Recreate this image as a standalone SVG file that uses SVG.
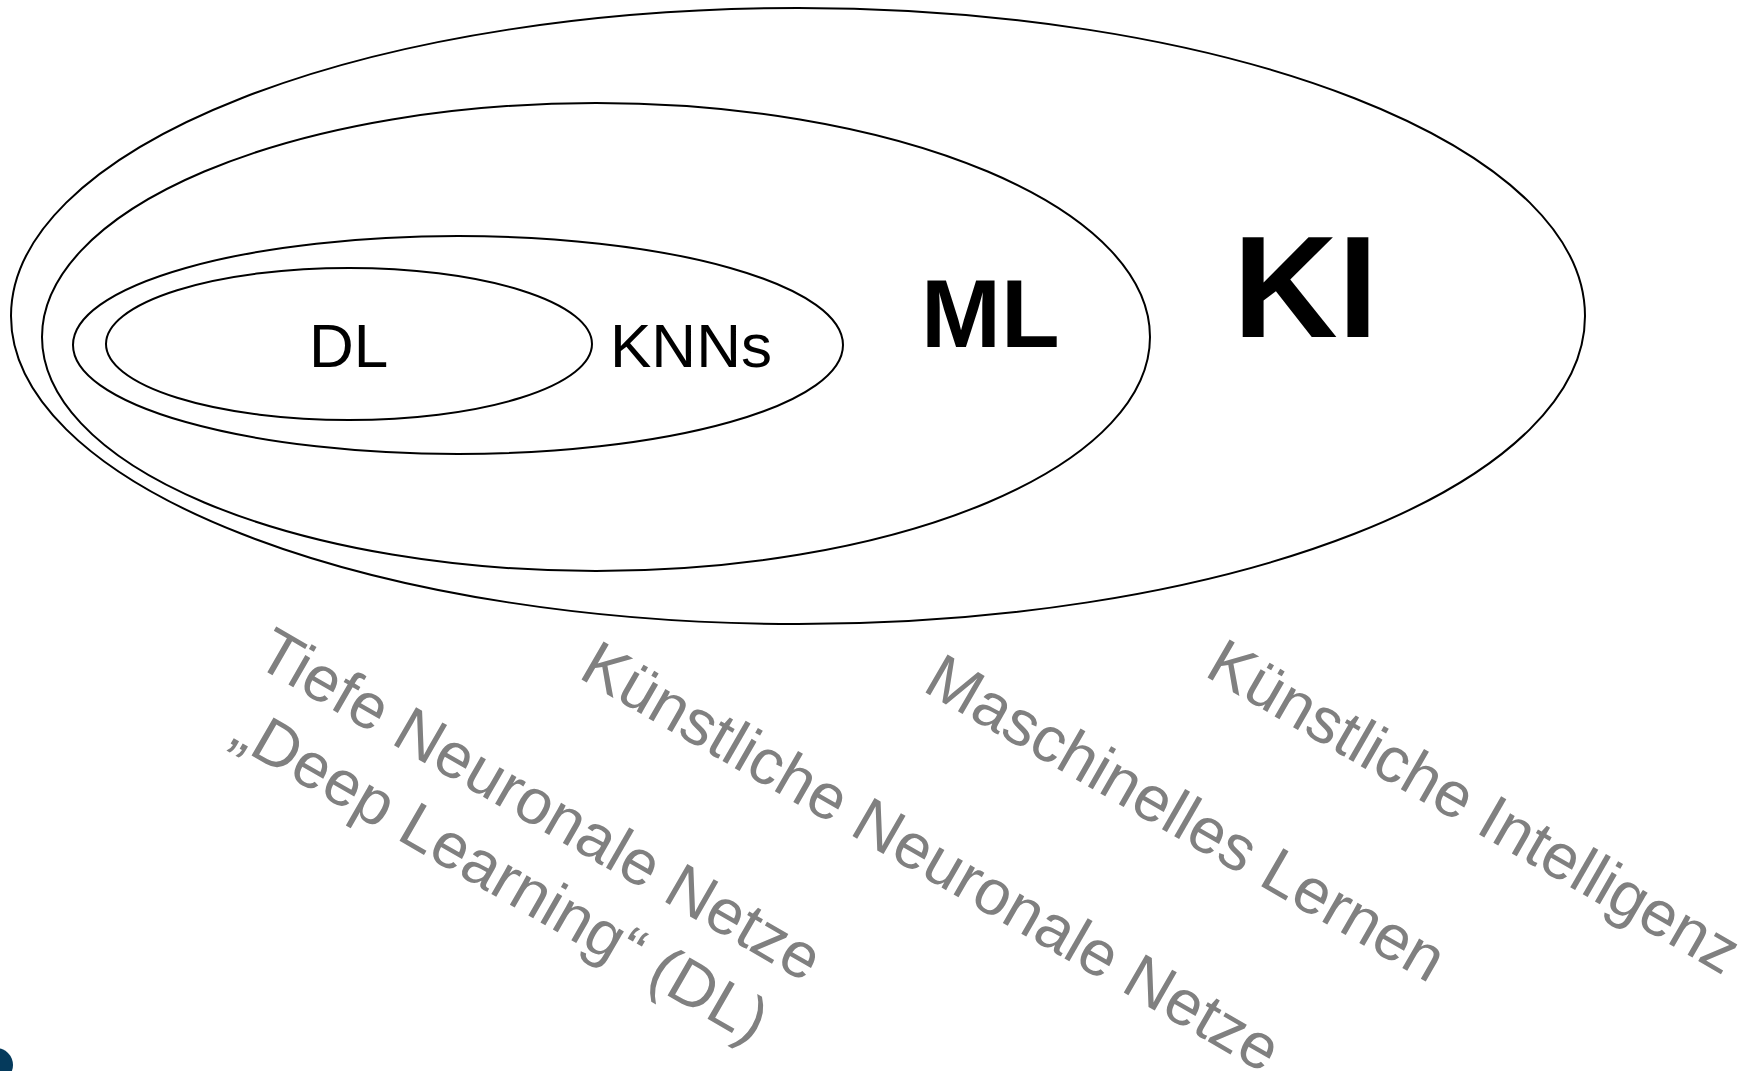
<svg xmlns="http://www.w3.org/2000/svg" width="1756" height="1071" viewBox="0 0 1756 1071">
<style>
.ring{fill:none;stroke:#000;stroke-width:2}
.lbl{font-family:"Liberation Sans",Arial,sans-serif;fill:#000}
.cap{font-family:"Liberation Sans",Arial,sans-serif;fill:#808080;font-size:64px}
</style>
<rect width="1756" height="1071" fill="#fff"/>
<g id="ki">
<ellipse class="ring" cx="798" cy="316" rx="787" ry="308"/>
<text class="lbl" x="1233" y="337" font-size="145" font-weight="bold">KI</text>
</g>
<g id="ml">
<ellipse class="ring" cx="596" cy="337" rx="554" ry="234"/>
<text class="lbl" x="921" y="347" font-size="96" font-weight="bold">ML</text>
</g>
<g id="knns">
<ellipse class="ring" cx="458" cy="345" rx="385" ry="109"/>
<text class="lbl" x="610" y="367" font-size="62">KNNs</text>
</g>
<g id="dl">
<ellipse class="ring" cx="349" cy="344" rx="243" ry="76"/>
<text class="lbl" x="309" y="367" font-size="62">DL</text>
</g>
<g id="captions">
<text class="cap" transform="translate(253,664) rotate(30)">Tiefe Neuronale Netze<tspan x="18" y="80">„Deep Learning“ (DL)</tspan></text>
<text class="cap" transform="translate(577,677) rotate(30)">Künstliche Neuronale Netze</text>
<text class="cap" transform="translate(921,690) rotate(30)">Maschinelles Lernen</text>
<text class="cap" transform="translate(1203,675) rotate(30)">Künstliche Intelligenz</text>
</g>
<g id="connectors"></g>
<circle cx="-4" cy="1065" r="17" fill="#053a5c"/>
</svg>
